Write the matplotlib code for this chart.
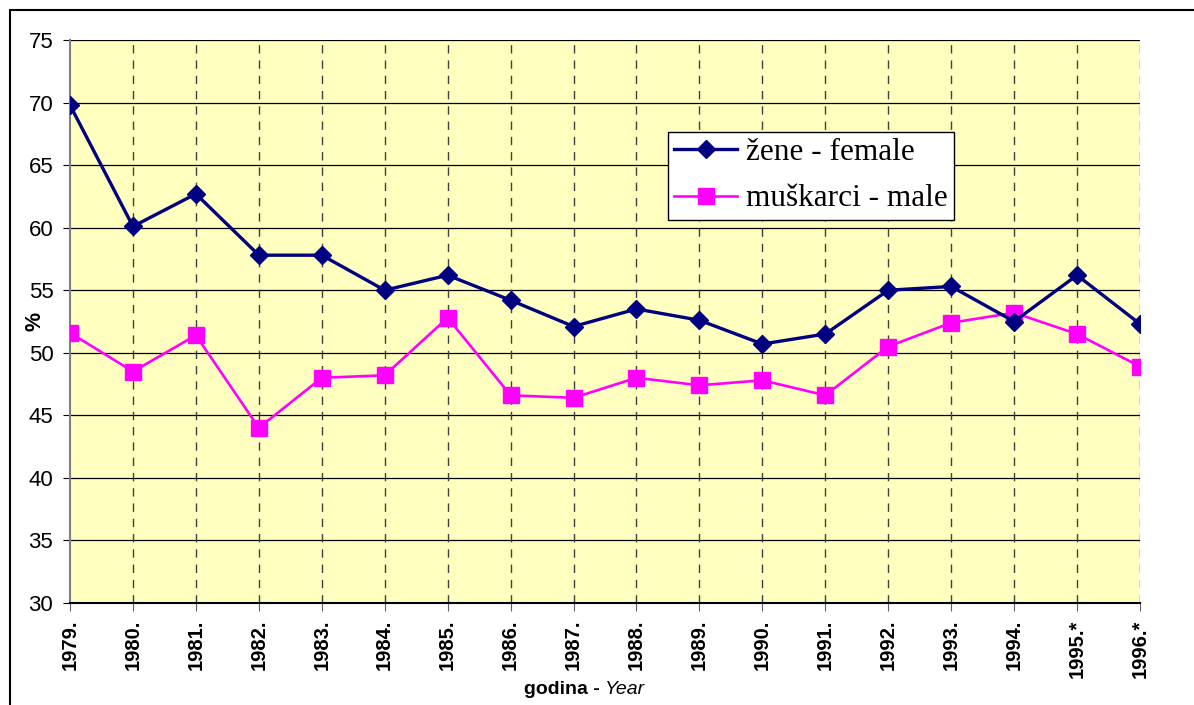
import matplotlib
matplotlib.use("Agg")
import matplotlib.pyplot as plt
from matplotlib.patches import Rectangle

YEARS = ["1979.", "1980.", "1981.", "1982.", "1983.", "1984.", "1985.", "1986.",
         "1987.", "1988.", "1989.", "1990.", "1991.", "1992.", "1993.", "1994.",
         "1995.*", "1996.*"]
FEMALE = [69.8, 60.1, 62.7, 57.8, 57.8, 55.0, 56.2, 54.2, 52.1, 53.5, 52.6,
          50.7, 51.5, 55.0, 55.3, 52.5, 56.2, 52.3]
MALE = [51.6, 48.5, 51.4, 44.0, 48.0, 48.2, 52.8, 46.6, 46.4, 48.0, 47.4,
        47.8, 46.6, 50.5, 52.4, 53.2, 51.5, 48.9]
Y_TICKS = [30, 35, 40, 45, 50, 55, 60, 65, 70, 75]

SANS = "Liberation Sans"
SERIF = "Liberation Serif"

fig = plt.figure(figsize=(11.94, 7.05), dpi=100)
fig.patches.append(Rectangle((10 / 1194, -0.1), 1.2, 1 - 10 / 705 + 0.1,
                             transform=fig.transFigure, fill=False,
                             edgecolor="black", linewidth=1.5))

ax = fig.add_axes([70 / 1194, 1 - 603 / 705, (1140 - 70) / 1194, (603 - 40) / 705])
ax.set_facecolor("#FFFFC0")

x = list(range(len(YEARS)))
ax.plot(x, FEMALE, color="#000080", linewidth=2.4, marker="D", markersize=9.5,
        label="žene - female", zorder=4)
ax.plot(x, MALE, color="#FF00FF", linewidth=1.9, marker="s", markersize=11.5,
        label="muškarci - male", zorder=3)

ax.set_xlim(0, len(YEARS) - 1)
ax.set_ylim(30, 75)
ax.set_yticks(Y_TICKS)
ax.set_yticklabels([str(v) for v in Y_TICKS], fontsize=16, family=SANS)
ax.set_xticks(x)
ax.set_xticklabels(YEARS, rotation=90, fontsize=14.5, fontweight="bold", family=SANS)

ax.grid(axis="y", color="black", linewidth=0.9, linestyle="-")
for xi in x[1:]:
    ax.axvline(xi, color="#404040", linewidth=1.0, linestyle=(0, (6, 5)), zorder=1)
ax.set_axisbelow(True)

for side in ("top", "right"):
    ax.spines[side].set_visible(False)
ax.spines["left"].set_color("#808080")
ax.spines["left"].set_linewidth(1.5)
ax.spines["bottom"].set_color("black")
ax.spines["bottom"].set_linewidth(1.5)
ax.tick_params(axis="y", direction="out", length=5, color="black", pad=7)
ax.tick_params(axis="x", direction="out", length=6, color="#606060", pad=6)

ax.set_ylabel("%", fontsize=15.5, fontweight="bold", family=SANS, labelpad=-12)
fig.text(0.5 * (70 + 1140) / 1194, 1 - 690 / 705, "godina - ", ha="right", va="center",
         fontsize=14, fontweight="bold", family=SANS)
fig.text(0.5 * (70 + 1140) / 1194, 1 - 690 / 705, "Year", ha="left", va="center",
         fontsize=14, fontstyle="italic", family=SANS)

leg = ax.legend(loc="upper left", bbox_to_anchor=((668 - 70) / 1070, 1 - (132 - 40) / 563),
                prop={"family": SERIF, "size": 22.5}, frameon=True, fancybox=False,
                framealpha=1, edgecolor="black", handlelength=2.0, borderpad=0.2,
                labelspacing=0.55, handletextpad=0.3, borderaxespad=0)
leg.get_frame().set_linewidth(1.0)

fig.savefig("out.png", dpi=100)
